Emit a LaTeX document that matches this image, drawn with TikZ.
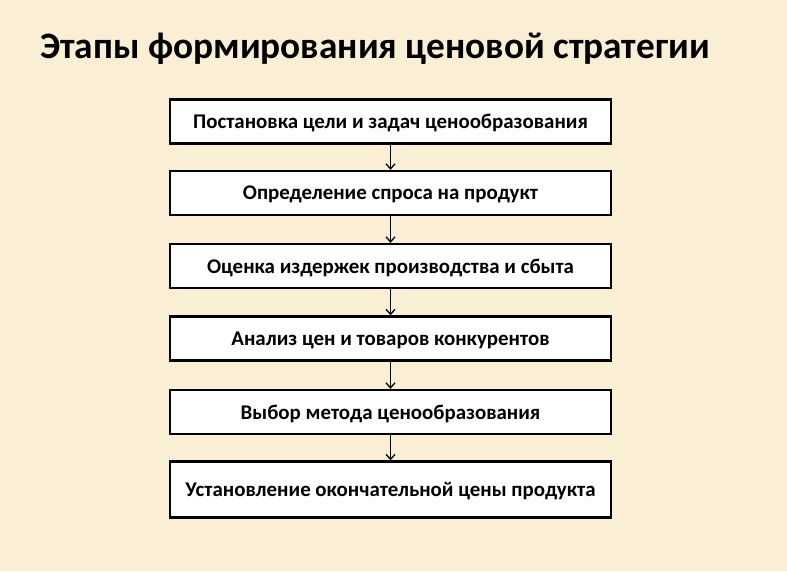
\documentclass[tikz,border=0pt]{standalone}
\usepackage{fontspec}
\setmainfont{Carlito}
\usetikzlibrary{arrows.meta}
\definecolor{slidebg}{RGB}{250,238,212}

\begin{document}
\begin{tikzpicture}[x=1pt, y=-1pt,
    stage/.style={draw=black, line width=2.4pt, fill=white, inner sep=0pt,
        minimum width=441pt, minimum height=44pt, text depth=0pt,
        font=\bfseries\fontsize{20.9}{24}\selectfont},
    link/.style={-{Straight Barb[length=5pt,width=9pt]}, line width=1.3pt}]
    % Slide background
    \fill[slidebg] (0,0) rectangle (787,571);
    \node[anchor=base west, inner sep=0pt, font=\bfseries\fontsize{37.3}{42}\selectfont] (title) at (40,58) {Этапы формирования ценовой стратегии};
    % Stages
    \node[stage] (s1) at (390.5,121.5) {Постановка цели и задач ценообразования};
    \node[stage] (s2) at (390.5,193) {Определение спроса на продукт};
    \node[stage] (s3) at (390.5,266) {Оценка издержек производства и сбыта};
    \node[stage] (s4) at (390.5,338.5) {Анализ цен и товаров конкурентов};
    \node[stage] (s5) at (390.5,412) {Выбор метода ценообразования};
    \node[stage, minimum height=56pt] (s6) at (390.5,489.5) {Установление окончательной цены продукта};
    \foreach \a/\b in {s1/s2,s2/s3,s3/s4,s4/s5,s5/s6} {
        \draw[link] (\a.south) -- (\b.north);
    }
\end{tikzpicture}
\end{document}
